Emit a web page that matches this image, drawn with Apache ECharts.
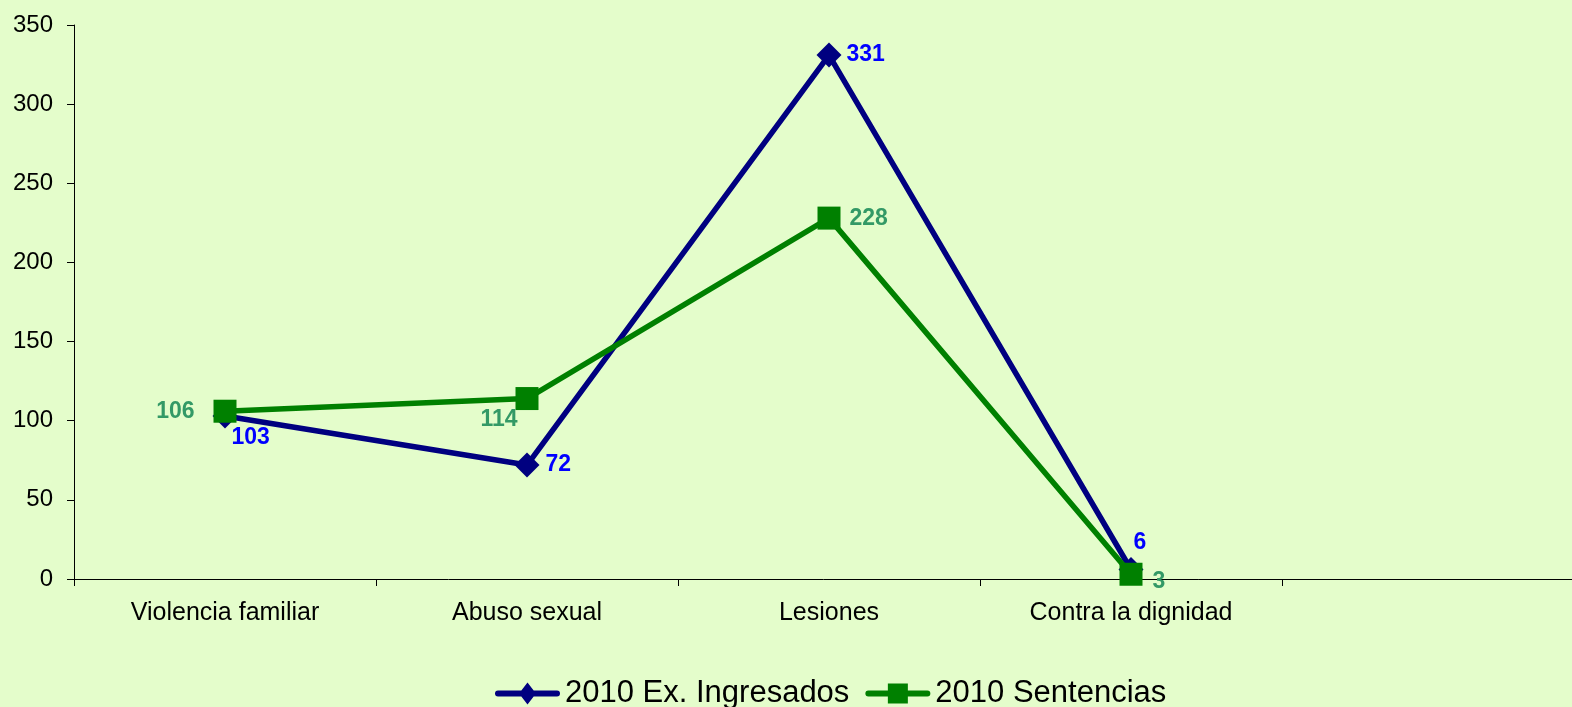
<!DOCTYPE html>
<html>
<head>
<meta charset="utf-8">
<script src="https://cdn.jsdelivr.net/npm/echarts@6/dist/echarts.min.js"></script>
<style>
html,body{margin:0;padding:0;background:#E4FDCB;}
#chart{width:1572px;height:707px;}
</style>
</head>
<body>
<div id="chart"></div>
<script>
const categories = ['Violencia familiar', 'Abuso sexual', 'Lesiones', 'Contra la dignidad', ''];
const ingresados = [103, 72, 331, 6, null];
const sentencias = [106, 114, 228, 3, null];
const seriesNames = ['2010 Ex. Ingresados', '2010 Sentencias'];
const yTicks = { min: 0, max: 350, interval: 50 };

// label placement styles (per point)
const ingLabel = [
  { position: 'right', offset: [-11, 22] },
  { position: 'right', offset: [1, 0] },
  { position: 'right', offset: [0, 0] },
  { position: 'top', offset: [9, 2] }
];
const senLabel = [
  { position: 'left', offset: [-14, 0] },
  { position: 'left', offset: [7, 21] },
  { position: 'right', offset: [4, 1] },
  { position: 'right', offset: [5, 7] }
];

function build(values, labels) {
  return values.map((v, i) => (v === null ? null : { value: v, label: labels[i] }));
}

const iconDiamond = 'path://M3,8 L62,8 A3,3 0 0 1 62,14 L3,14 A3,3 0 0 1 3,8 Z M32.5,0 L41,11 L32.5,22 L24,11 Z';
const iconSquare = 'path://M3,8 L62,8 A3,3 0 0 1 62,14 L3,14 A3,3 0 0 1 3,8 Z M22.5,1 L42.5,1 L42.5,21 L22.5,21 Z';

const font = 'Liberation Sans, Arial, sans-serif';
const chart = echarts.init(document.getElementById('chart'));
chart.setOption({
  backgroundColor: '#E4FDCB',
  animation: false,
  textStyle: { fontFamily: font },
  grid: { left: 74, top: 25, bottom: 128, width: 1510, containLabel: false, outerBoundsMode: 'none' },
  legend: {
    left: 490, top: 673,
    itemWidth: 65, itemHeight: 22, itemGap: 16,
    textStyle: { fontSize: 31, color: '#000', fontFamily: font },
    data: [
      { name: seriesNames[0], icon: iconDiamond },
      { name: seriesNames[1], icon: iconSquare }
    ]
  },
  xAxis: {
    type: 'category',
    data: categories,
    boundaryGap: true,
    axisLine: { lineStyle: { color: '#000', width: 1 } },
    axisTick: { show: true, length: 7, lineStyle: { color: '#000' } },
    axisLabel: { color: '#000', fontSize: 25, margin: 22, fontFamily: font },
    splitLine: { show: false }
  },
  yAxis: {
    type: 'value',
    min: yTicks.min, max: yTicks.max, interval: yTicks.interval,
    axisLine: { show: true, lineStyle: { color: '#000', width: 1 } },
    axisTick: { show: true, length: 7, lineStyle: { color: '#000' } },
    axisLabel: { color: '#000', fontSize: 24, margin: 21, fontFamily: font },
    splitLine: { show: false }
  },
  series: [
    {
      name: seriesNames[0],
      type: 'line',
      data: build(ingresados, ingLabel),
      symbol: 'diamond',
      symbolSize: 25,
      showAllSymbol: true,
      itemStyle: { color: '#000080' },
      lineStyle: { color: '#000080', width: 5.5 },
      label: { show: true, color: '#0000FF', fontWeight: 'bold', fontSize: 23, fontFamily: font },
      z: 2
    },
    {
      name: seriesNames[1],
      type: 'line',
      data: build(sentencias, senLabel),
      symbol: 'rect',
      symbolSize: 23,
      showAllSymbol: true,
      itemStyle: { color: '#008000' },
      lineStyle: { color: '#008000', width: 5.5 },
      label: { show: true, color: '#339966', fontWeight: 'bold', fontSize: 23, fontFamily: font },
      z: 3
    }
  ]
});
</script>
</body>
</html>
